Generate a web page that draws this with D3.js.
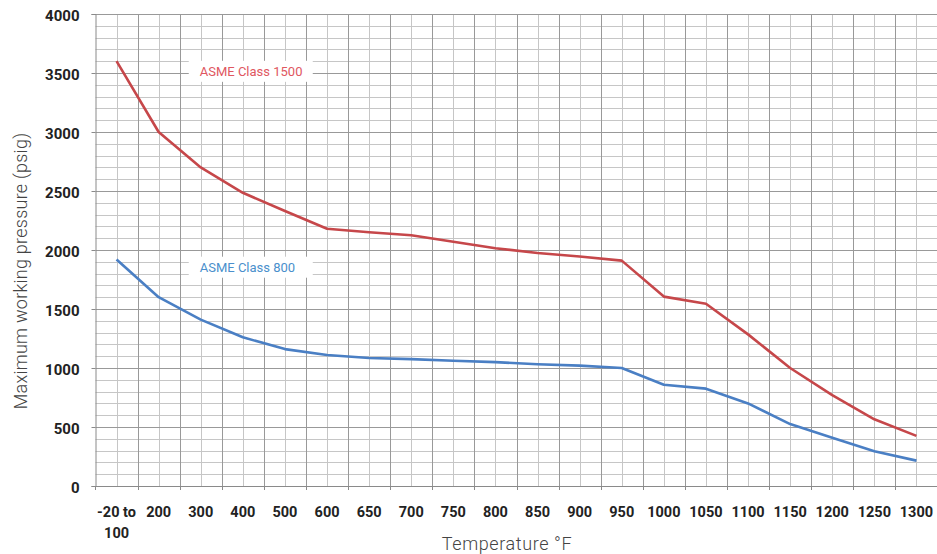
<!DOCTYPE html>
<html>
<head>
<meta charset="utf-8">
<script src="https://cdn.jsdelivr.net/npm/d3@7"></script>
<style>
  html, body { margin: 0; padding: 0; background: #fff; }
  svg { display: block; }
  text { font-family: Roboto, "DejaVu Sans", sans-serif; }
</style>
</head>
<body>
<svg id="chart" width="937" height="554"></svg>
<script>
// ---- data ----
const categories = ["-20 to 100", "200", "300", "400", "500", "600", "650", "700", "750", "800",
  "850", "900", "950", "1000", "1050", "1100", "1150", "1200", "1250", "1300"];
const class1500 = [3600, 3000, 2700, 2485, 2330, 2180, 2150, 2125, 2070, 2015,
  1975, 1945, 1910, 1605, 1545, 1285, 1000, 770, 565, 425];
const class800 = [1920, 1600, 1410, 1260, 1160, 1110, 1085, 1075, 1062, 1050,
  1032, 1020, 1000, 858, 825, 700, 525, 408, 295, 215];
const yTicks = [0, 500, 1000, 1500, 2000, 2500, 3000, 3500, 4000];
const seriesNames = ["ASME Class 1500", "ASME Class 800"];
const xTitle = "Temperature °F";
const yTitle = "Maximum working pressure (psig)";

// ---- layout ----
const svg = d3.select("#chart");
const L = 95.5, R = 937.5, T = 14, B = 486;
const x = d3.scaleBand().domain(categories).range([L, R]);
const bw = x.bandwidth();
const cx = c => x(c) + bw / 2;
const y = d3.scaleLinear().domain([0, 4000]).range([B, T]);

const grid = svg.append("g");
grid.selectAll("line.hmin").data(d3.range(100, 4001, 100).filter(v => v % 500 !== 0))
  .join("line").attr("x1", L).attr("x2", R)
  .attr("y1", d => Math.round(y(d)) + 0.5).attr("y2", d => Math.round(y(d)) + 0.5)
  .attr("stroke", "#c6c6c6").attr("stroke-width", 1);
grid.selectAll("line.vmin").data(categories).join("line")
  .attr("x1", d => Math.round(cx(d)) + 0.5).attr("x2", d => Math.round(cx(d)) + 0.5)
  .attr("y1", T).attr("y2", B)
  .attr("stroke", "#c6c6c6").attr("stroke-width", 1);
grid.selectAll("line.hmaj").data(yTicks.filter(v => v > 0)).join("line")
  .attr("x1", L).attr("x2", R)
  .attr("y1", d => Math.round(y(d)) + 0.5).attr("y2", d => Math.round(y(d)) + 0.5)
  .attr("stroke", "#999").attr("stroke-width", 1);
grid.selectAll("line.vmaj").data(categories.slice(1)).join("line")
  .attr("x1", d => Math.round(x(d)) + 0.5).attr("x2", d => Math.round(x(d)) + 0.5)
  .attr("y1", T).attr("y2", B)
  .attr("stroke", "#999").attr("stroke-width", 1);

// axes
const yAxis = d3.axisLeft(y).tickValues(yTicks).tickSize(4).tickPadding(12).tickFormat(d3.format("d"));
const gy = svg.append("g").attr("transform", `translate(${L},0)`).call(yAxis);
gy.select(".domain").attr("stroke", "#8a8a8a");
gy.selectAll(".tick line").attr("stroke", "#8a8a8a");
gy.selectAll(".tick text").attr("font-size", 15).attr("font-weight", 700).attr("fill", "#222")
  .attr("font-family", "Roboto, sans-serif").attr("dy", "0.4em");

const xAxis = d3.axisBottom(x).tickSize(0).tickFormat("");
const gx = svg.append("g").attr("transform", `translate(0,${B})`).call(xAxis);
gx.select(".domain").attr("stroke", "#8a8a8a");
gx.selectAll("line.bt").data(categories.slice(1)).join("line")
  .attr("x1", d => Math.round(x(d)) + 0.5).attr("x2", d => Math.round(x(d)) + 0.5)
  .attr("y1", 0).attr("y2", 4).attr("stroke", "#8a8a8a");
gx.append("line").attr("x1", L).attr("x2", L).attr("y1", 0).attr("y2", 4).attr("stroke", "#8a8a8a");

// x labels
const xl = svg.append("g");
categories.forEach(c => {
  const parts = c.includes(" to ") ? [c.split(" to ")[0] + " to", c.split(" to ")[1]] : [c];
  const t = xl.append("text").attr("x", cx(c)).attr("y", 517)
    .attr("text-anchor", "middle").attr("font-size", 14.5).attr("font-weight", 700).attr("fill", "#222");
  parts.forEach((p, i) => t.append("tspan").attr("x", cx(c)).attr("dy", i === 0 ? 0 : 21).text(p));
});

// titles
svg.append("text").attr("x", 507).attr("y", 550).attr("text-anchor", "middle")
  .attr("font-size", 18).attr("font-weight", 300).attr("letter-spacing", 0.6)
  .attr("fill", "#444").text(xTitle);
svg.append("text").attr("transform", "translate(27,271) rotate(-90)").attr("text-anchor", "middle")
  .attr("font-size", 18).attr("font-weight", 300).attr("letter-spacing", 0.25)
  .attr("fill", "#444").text(yTitle);

// lines
const line = d3.line().x((d, i) => cx(categories[i])).y(d => y(d));
svg.append("path").datum(class1500).attr("d", line).attr("fill", "none")
  .attr("stroke", "#c6474a").attr("stroke-width", 2.6).attr("stroke-linejoin", "round");
svg.append("path").datum(class800).attr("d", line).attr("fill", "none")
  .attr("stroke", "#4a7fc4").attr("stroke-width", 2.6).attr("stroke-linejoin", "round");

// series labels
const labels = [
  { name: seriesNames[0], v: 3510, color: "#e0575f" },
  { name: seriesNames[1], v: 1850, color: "#4a8fcc" }
];
labels.forEach(l => {
  const bx = cx("300") - 12, by = y(l.v) - 11;
  svg.append("rect").attr("x", bx).attr("y", by).attr("width", 124).attr("height", 21).attr("fill", "#fff");
  svg.append("text").attr("x", cx("300") - 1).attr("y", y(l.v) + 4.5)
    .attr("font-size", 13).attr("fill", l.color).text(l.name);
});
</script>
</body>
</html>
